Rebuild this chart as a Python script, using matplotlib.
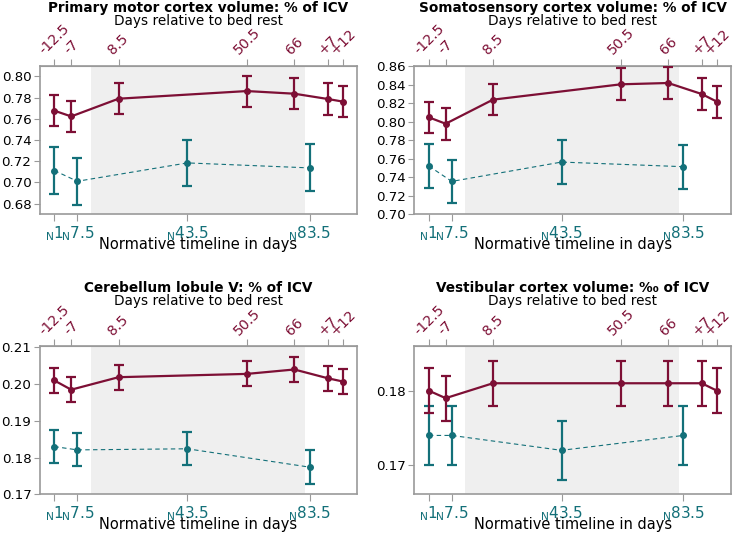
import matplotlib
matplotlib.use('Agg')
import matplotlib.pyplot as plt
import numpy as np

# bed rest timeline (top axis)
rest_days = [-12.5, -7, 8.5, 50.5, 66, 77, 82]
rest_labels = ['-12.5', '-7', '8.5', '50.5', '66', '+7', '+12']
bed_rest_span = [-0.5, 69.5]

# normative timeline (bottom axis), placed on the same day scale
norm_x = [-12.5, -5, 31, 71]
norm_labels = ['1', '7.5', '43.5', '83.5']

titles = ['Primary motor cortex volume: % of ICV',
          'Somatosensory cortex volume: % of ICV',
          'Cerebellum lobule V: % of ICV',
          'Vestibular cortex volume: \u2030 of ICV']

motor_rest = [0.7676, 0.7622, 0.7789, 0.7861, 0.7836, 0.7786, 0.7761]
motor_rest_err = [0.0146, 0.0146, 0.0147, 0.0146, 0.0147, 0.0147, 0.0147]
motor_norm = [0.7112, 0.7011, 0.7184, 0.7137]
motor_norm_err = [0.0219, 0.0219, 0.0219, 0.0222]

soma_rest = [0.8047, 0.7978, 0.8238, 0.8404, 0.8418, 0.8299, 0.8216]
soma_rest_err = [0.0171, 0.0171, 0.0171, 0.0173, 0.0173, 0.0173, 0.0171]
soma_norm = [0.7521, 0.7355, 0.7564, 0.7514]
soma_norm_err = [0.0238, 0.0234, 0.0234, 0.0236]

cereb_rest = [0.2010, 0.1985, 0.2019, 0.2028, 0.2040, 0.2016, 0.2007]
cereb_rest_err = [0.0034, 0.0034, 0.0034, 0.0034, 0.0034, 0.0034, 0.0034]
cereb_norm = [0.1830, 0.1821, 0.1824, 0.1774]
cereb_norm_err = [0.0045, 0.0045, 0.0045, 0.0046]

vest_rest = [0.180, 0.179, 0.181, 0.181, 0.181, 0.181, 0.180]
vest_rest_err = [0.003, 0.003, 0.003, 0.003, 0.003, 0.003, 0.003]
vest_norm = [0.174, 0.174, 0.172, 0.174]
vest_norm_err = [0.004, 0.004, 0.004, 0.004]

ylims = [(0.670, 0.810), (0.700, 0.8605), (0.170, 0.2104), (0.1661, 0.1860)]
yticks = [np.arange(0.68, 0.801, 0.02), np.arange(0.70, 0.861, 0.02),
          np.arange(0.17, 0.2101, 0.01), [0.17, 0.18]]

RED = '#7d0f35'
TEAL = '#137079'
GRID = '#9a9a9a'
W, H = 734.0, 538.0


def draw_panel(fig, ax, title, rest, rest_err, norm, norm_err, ylim, ytk):
	ax.axvspan(bed_rest_span[0], bed_rest_span[1], color='#efefef', zorder=0, lw=0)
	ax.errorbar(norm_x, norm, yerr=norm_err, color=TEAL, marker='o', markersize=4,
		linestyle=(0, (4, 3)), linewidth=0.8, elinewidth=1.6, capsize=3.5, capthick=1.6, zorder=3)
	ax.errorbar(rest_days, rest, yerr=rest_err, color=RED, marker='o', markersize=4,
		linestyle='-', linewidth=1.6, elinewidth=1.6, capsize=3.5, capthick=1.6, zorder=4)
	ax.set_xlim(-17.3, 86.6)
	ax.set_ylim(*ylim)
	ax.set_yticks(ytk)
	ax.set_yticklabels(['%.2f' % v for v in ytk], fontsize=9.6)
	ax.set_xticks(norm_x)
	ax.set_xticklabels([r'$_\mathregular{N}$' + s for s in norm_labels], color=TEAL, fontsize=11)
	ax.tick_params(axis='x', pad=2, length=5, color=GRID)
	ax.tick_params(axis='y', length=4, color=GRID, pad=2)
	ax.set_xlabel('Normative timeline in days', fontsize=10.5, labelpad=-4)
	for s in ax.spines.values():
		s.set_color(GRID)
		s.set_linewidth(1.2)
	top = ax.secondary_xaxis('top')
	top.set_xticks(rest_days)
	top.set_xticklabels(rest_labels, rotation=45, color=RED, fontsize=10.2)
	top.tick_params(length=5, color=GRID, pad=1)
	top.spines['top'].set_color(GRID)
	# title and top-axis label placed above the rotated tick labels
	pos = ax.get_position()
	xc = pos.x0 + pos.width / 2
	ytop = pos.y1
	fig.text(xc, ytop + 58 / H, title, fontsize=9.8, fontweight='bold', ha='center', va='center')
	fig.text(xc, ytop + 45 / H, 'Days relative to bed rest', fontsize=9.8, ha='center', va='center')


fig = plt.figure(figsize=(7.34, 5.38), dpi=100)
plt.rcParams['font.family'] = ['DejaVu Sans']
positions = [[0.0541, 0.6017, 0.4327, 0.2762], [0.5644, 0.6017, 0.4315, 0.2762],
             [0.0541, 0.0812, 0.4327, 0.2757], [0.5644, 0.0812, 0.4315, 0.2757]]
rests = [motor_rest, soma_rest, cereb_rest, vest_rest]
rest_errs = [motor_rest_err, soma_rest_err, cereb_rest_err, vest_rest_err]
norms = [motor_norm, soma_norm, cereb_norm, vest_norm]
norm_errs = [motor_norm_err, soma_norm_err, cereb_norm_err, vest_norm_err]
for i in range(4):
	ax = fig.add_axes(positions[i])
	draw_panel(fig, ax, titles[i], rests[i], rest_errs[i], norms[i], norm_errs[i], ylims[i], yticks[i])

fig.savefig('out.png', dpi=100)
